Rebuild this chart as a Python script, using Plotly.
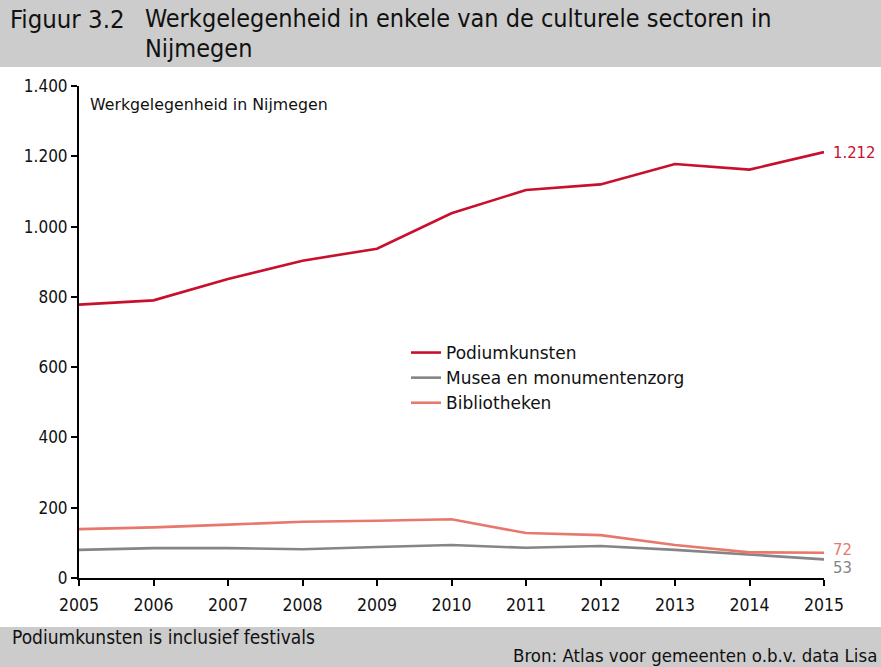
import plotly.graph_objects as go

years = [2005, 2006, 2007, 2008, 2009, 2010, 2011, 2012, 2013, 2014, 2015]
podiumkunsten = [778, 790, 851, 903, 937, 1038, 1104, 1120, 1178, 1162, 1212]
musea = [80, 85, 85, 82, 88, 94, 86, 91, 80, 67, 53]
bibliotheken = [139, 144, 152, 160, 163, 167, 128, 122, 94, 73, 72]
series_names = ["Podiumkunsten", "Musea en monumentenzorg", "Bibliotheken"]
y_ticks = [0, 200, 400, 600, 800, 1000, 1200, 1400]
y_ticktext = ["0", "200", "400", "600", "800", "1.000", "1.200", "1.400"]

RED = "#c8102e"
GREY = "#858585"
SALMON = "#e8786c"

W, H = 881, 667
L, R, T, B = 79, 57, 86, 89
PW, PH = W - L - R, H - T - B

def px(x):
    return (x - L) / PW

def py(y):
    return 1 - (y - T) / PH

COND = "DejaVu Sans Condensed, sans-serif"
REG = "DejaVu Sans, Verdana, sans-serif"

fig = go.Figure()
for name, vals, col in zip(series_names, [podiumkunsten, musea, bibliotheken], [RED, GREY, SALMON]):
    fig.add_trace(go.Scatter(x=years, y=vals, mode="lines", name=name,
                             line=dict(color=col, width=2.6), cliponaxis=False))

# end labels (pixel shift to keep the two small labels apart)
for vals, col, dy in [(podiumkunsten, RED, 0), (bibliotheken, SALMON, 3), (musea, GREY, -8)]:
    v = vals[-1]
    txt = f"{v:,}".replace(",", ".")
    fig.add_annotation(x=years[-1], y=v, xref="x", yref="y", text=txt, showarrow=False,
                       xanchor="left", yanchor="middle", xshift=7, yshift=dy,
                       font=dict(family=COND, size=16.5, color=col))

shapes = [
    dict(type="rect", xref="paper", yref="paper", x0=px(0), x1=px(W), y0=py(67), y1=py(0),
         fillcolor="#cccccc", line_width=0, layer="below"),
    dict(type="rect", xref="paper", yref="paper", x0=px(0), x1=px(W), y0=py(H), y1=py(627),
         fillcolor="#cccccc", line_width=0, layer="below"),
]

ann = [
    dict(text="Figuur 3.2", x=px(8), y=py(19), xanchor="left", yanchor="middle",
         font=dict(family=COND, size=25.5, color="#111111")),
    dict(text="Werkgelegenheid in enkele van de culturele sectoren in", x=px(143), y=py(19),
         xanchor="left", yanchor="middle", font=dict(family=COND, size=25, color="#111111")),
    dict(text="Nijmegen", x=px(143), y=py(48), xanchor="left", yanchor="middle",
         font=dict(family=COND, size=25, color="#111111")),
    dict(text="Werkgelegenheid in Nijmegen", x=px(88), y=py(104), xanchor="left", yanchor="middle",
         font=dict(family=REG, size=15.8, color="#111111")),
    dict(text="Podiumkunsten is inclusief festivals", x=px(10), y=py(637), xanchor="left",
         yanchor="middle", font=dict(family=COND, size=19, color="#111111")),
    dict(text="Bron: Atlas voor gemeenten o.b.v. data Lisa", x=px(879), y=py(655), xanchor="right",
         yanchor="middle", font=dict(family=COND, size=18.5, color="#111111")),
]
for a in ann:
    a.update(xref="paper", yref="paper", showarrow=False)
    fig.add_annotation(**a)

fig.update_layout(
    width=W, height=H,
    margin=dict(l=L, r=R, t=T, b=B),
    paper_bgcolor="white", plot_bgcolor="white",
    shapes=shapes,
    showlegend=True,
    legend=dict(x=px(406), y=py(335), xanchor="left", yanchor="top",
                bgcolor="rgba(0,0,0,0)", font=dict(family=REG, size=17, color="#111111"),
                itemwidth=30, tracegroupgap=0),
    xaxis=dict(range=[2005, 2015], tickvals=years, ticktext=[str(y) for y in years],
               showgrid=False, zeroline=False, showline=True, linecolor="black", linewidth=2,
               ticks="outside", ticklen=6, tickwidth=2, tickcolor="black", ticklabelstandoff=4,
               tickfont=dict(family=COND, size=17.5, color="#111111")),
    yaxis=dict(range=[0, 1400], tickvals=y_ticks, ticktext=y_ticktext,
               showgrid=False, zeroline=False, showline=True, linecolor="black", linewidth=2,
               ticks="outside", ticklen=6, tickwidth=2, tickcolor="black",
               tickfont=dict(family=COND, size=17, color="#111111")),
)

fig.write_html("out.html", config={"displayModeBar": False},
               post_script="document.body.style.margin='0';document.body.style.padding='0';")
